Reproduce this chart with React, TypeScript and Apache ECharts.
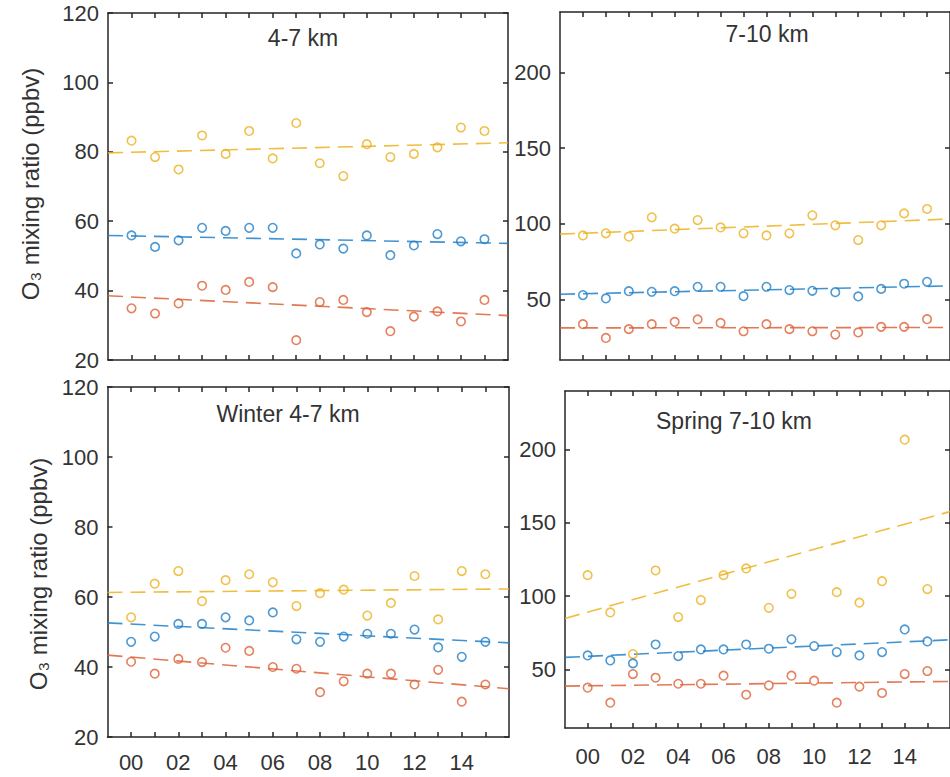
import React, { useEffect, useRef } from "react";
import * as echarts from "echarts";

// ---------- data ----------
const hourLabels = ["00", "01", "02", "03", "04", "05", "06", "07", "08", "09", "10", "11", "12", "13", "14", "15"];
const labeledHours = [0, 2, 4, 6, 8, 10, 12, 14];
const lowerTicks = [20, 40, 60, 80, 100, 120];
const upperTicks = [50, 100, 150, 200];
const panelTitles = ["4-7 km", "7-10 km", "Winter 4-7 km", "Spring 7-10 km"];
const yAxisTitle = "O₃ mixing ratio (ppbv)";

// 4-7 km
const tlOrange = [83.2, 78.5, 74.9, 84.7, 79.4, 86, 78.1, 88.3, 76.7, 73, 82.2, 78.5, 79.4, 81.3, 87, 86];
const tlBlue = [55.9, 52.6, 54.5, 58.1, 57.2, 58.1, 58.1, 50.7, 53.3, 52.1, 55.9, 50.2, 53, 56.3, 54.2, 54.8];
const tlRed = [34.9, 33.4, 36.3, 41.4, 40.2, 42.5, 41, 25.7, 36.7, 37.3, 33.8, 28.3, 32.5, 34, 31.1, 37.3];
const tlTrendOrange = [79.7, 82.6];
const tlTrendBlue = [55.9, 53.6];
const tlTrendRed = [38.5, 32.8];

// 7-10 km
const trOrange = [92.3, 93.7, 91.5, 104.3, 96.8, 102.5, 97.6, 93.7, 92.3, 93.7, 105.6, 99, 89.3, 99, 106.9, 109.8];
const trBlue = [52.9, 50.7, 55.5, 55.1, 55.5, 58.4, 58.4, 52.2, 58.4, 56.2, 55.7, 54.8, 52, 57, 60.4, 61.7];
const trRed = [33.7, 24.6, 30.4, 33.7, 35.2, 36.8, 34.5, 29, 33.7, 30.4, 29, 26.8, 28.2, 31.9, 31.9, 37];
const trTrendOrange = [93.2, 103.2];
const trTrendBlue = [53.5, 59];
const trTrendRed = [31.2, 31.5];

// Winter 4-7 km
const blOrange = [54.2, 63.8, 67.4, 58.8, 64.8, 66.5, 64.2, 57.4, 61.1, 62.1, 54.7, 58.3, 66, 53.6, 67.4, 66.5];
const blBlue = [47.2, 48.7, 52.3, 52.3, 54.2, 53.3, 55.6, 47.9, 47.2, 48.7, 49.5, 49.5, 50.7, 45.6, 42.9, 47.2];
const blRed = [41.5, 38.1, 42.3, 41.4, 45.5, 44.6, 40, 39.5, 32.8, 35.9, 38.1, 38.1, 35, 39.2, 30.1, 35];
const blTrendOrange = [61.3, 62.3];
const blTrendBlue = [52.6, 46.9];
const blTrendRed = [43.4, 33.8];

// Spring 7-10 km
const brOrange = [114.3, 88.9, 60.5, 117.5, 85.7, 97.3, 114.3, 118.9, 92, 101.6, null, 102.7, 95.5, 110.2, 206.8, 104.8];
const brBlue = [59.5, 56.1, 54.1, 67, 59.1, 63.6, 63.6, 67, 64.1, 70.5, 65.9, 61.8, 59.5, 61.8, 77.3, 69.1];
const brRed = [37.5, 27.3, 46.8, 44.3, 40.2, 40.2, 45.7, 32.7, 39.1, 45.7, 42.3, 27.3, 38.2, 33.9, 46.8, 48.9];
const brTrendOrange = [84.8, 157.7];
const brTrendBlue = [58.2, 70.2];
const brTrendRed = [38.6, 41.8];

const xRange = [-1, 16];

// ---------- styling ----------
const FONT = "'Liberation Sans', Arial, Helvetica, sans-serif";
const AX = "#262626";
const TXT = "#333333";
const C_ORANGE = "#EDB120";
const C_BLUE = "#1F80C8";
const C_RED = "#DD6236";

type Panel = {
  grid: { left: number; top: number; width: number; height: number };
  yMin: number;
  yMax: number;
  yTicks: number[];
  showX: boolean;
  xLabelMargin: number;
  series: { vals: (number | null)[]; trend: number[]; color: string }[];
};

const panels: Panel[] = [
  {
    grid: { left: 108, top: 13, width: 400, height: 347 },
    yMin: 20, yMax: 120, yTicks: lowerTicks, showX: false, xLabelMargin: 14,
    series: [
      { vals: tlOrange, trend: tlTrendOrange, color: C_ORANGE },
      { vals: tlBlue, trend: tlTrendBlue, color: C_BLUE },
      { vals: tlRed, trend: tlTrendRed, color: C_RED },
    ],
  },
  {
    grid: { left: 560, top: 12, width: 393, height: 348 },
    yMin: 10, yMax: 240, yTicks: upperTicks, showX: false, xLabelMargin: 14,
    series: [
      { vals: trOrange, trend: trTrendOrange, color: C_ORANGE },
      { vals: trBlue, trend: trTrendBlue, color: C_BLUE },
      { vals: trRed, trend: trTrendRed, color: C_RED },
    ],
  },
  {
    grid: { left: 107.5, top: 387, width: 401.5, height: 350 },
    yMin: 20, yMax: 120, yTicks: lowerTicks, showX: true, xLabelMargin: 14,
    series: [
      { vals: blOrange, trend: blTrendOrange, color: C_ORANGE },
      { vals: blBlue, trend: blTrendBlue, color: C_BLUE },
      { vals: blRed, trend: blTrendRed, color: C_RED },
    ],
  },
  {
    grid: { left: 565, top: 391, width: 389, height: 337 },
    yMin: 10, yMax: 240, yTicks: upperTicks, showX: true, xLabelMargin: 17,
    series: [
      { vals: brOrange, trend: brTrendOrange, color: C_ORANGE },
      { vals: brBlue, trend: brTrendBlue, color: C_BLUE },
      { vals: brRed, trend: brTrendRed, color: C_RED },
    ],
  },
];

const titlePos = [
  [303, 38],
  [767, 34],
  [288, 414],
  [734, 421],
];
const yTitlePos = [
  [30, 184],
  [38.5, 574],
];

function buildOption() {
  const grid: any[] = [];
  const xAxis: any[] = [];
  const yAxis: any[] = [];
  const series: any[] = [];
  const hourTicks = hourLabels.map((_, i) => i);
  const lineStyle = { color: AX, width: 1.5 };

  panels.forEach((p, k) => {
    grid.push({ ...p.grid, show: false });
    ["bottom", "top"].forEach((pos, j) => {
      xAxis.push({
        type: "value",
        gridIndex: k,
        position: pos,
        min: xRange[0],
        max: xRange[1],
        interval: 1,
        axisLine: { show: true, onZero: false, lineStyle },
        axisTick: { show: true, inside: true, length: 5, lineStyle, customValues: hourTicks },
        axisLabel: {
          show: j === 0 && p.showX,
          customValues: labeledHours,
          formatter: (v: number) => hourLabels[v] ?? "",
          fontSize: 22,
          fontFamily: FONT,
          color: TXT,
          margin: p.xLabelMargin,
        },
        splitLine: { show: false },
      });
    });
    ["left", "right"].forEach((pos, j) => {
      yAxis.push({
        type: "value",
        gridIndex: k,
        position: pos,
        min: p.yMin,
        max: p.yMax,
        axisLine: { show: true, onZero: false, lineStyle },
        axisTick: { show: true, inside: true, length: 5, lineStyle, customValues: p.yTicks },
        axisLabel: {
          show: j === 0,
          customValues: p.yTicks,
          fontSize: 22,
          fontFamily: FONT,
          color: TXT,
          margin: 9,
        },
        splitLine: { show: false },
      });
    });
    p.series.forEach((s) => {
      series.push({
        type: "line",
        xAxisIndex: 2 * k,
        yAxisIndex: 2 * k,
        data: [
          [xRange[0], s.trend[0]],
          [xRange[1], s.trend[1]],
        ],
        showSymbol: false,
        symbol: "none",
        lineStyle: { color: s.color, width: 1.6, type: [15, 8], opacity: 0.85 },
        silent: true,
        z: 2,
      });
    });
    p.series.forEach((s) => {
      series.push({
        type: "scatter",
        xAxisIndex: 2 * k,
        yAxisIndex: 2 * k,
        data: s.vals.map((v, i) => (v === null ? [i, null] : [i, v])),
        symbol: "circle",
        symbolSize: 8.5,
        itemStyle: { color: "rgba(255,255,255,0)", borderColor: s.color, borderWidth: 1.6 },
        z: 3,
      });
    });
  });

  const graphic: any[] = [];
  panelTitles.forEach((t, k) => {
    graphic.push({
      type: "text",
      x: titlePos[k][0],
      y: titlePos[k][1],
      style: {
        text: t,
        font: `23px ${FONT}`,
        fill: TXT,
        textAlign: "center",
        textVerticalAlign: "middle",
      },
      z: 10,
    });
  });
  yTitlePos.forEach((pos) => {
    graphic.push({
      type: "text",
      x: pos[0],
      y: pos[1],
      rotation: Math.PI / 2,
      style: {
        text: yAxisTitle,
        font: `24px ${FONT}`,
        fill: TXT,
        textAlign: "center",
        textVerticalAlign: "middle",
      },
      z: 10,
    });
  });

  return {
    animation: false,
    backgroundColor: "#ffffff",
    grid,
    xAxis,
    yAxis,
    series,
    graphic,
  };
}

export default function App() {
  const ref = useRef<HTMLDivElement>(null);
  useEffect(() => {
    if (!ref.current) return;
    const chart = echarts.init(ref.current, undefined, { renderer: "svg" });
    chart.setOption(buildOption() as any);
    return () => chart.dispose();
  }, []);
  return (
    <div
      ref={ref}
      style={{ position: "fixed", left: 0, top: 0, width: 950, height: 777, background: "#fff" }}
    />
  );
}
